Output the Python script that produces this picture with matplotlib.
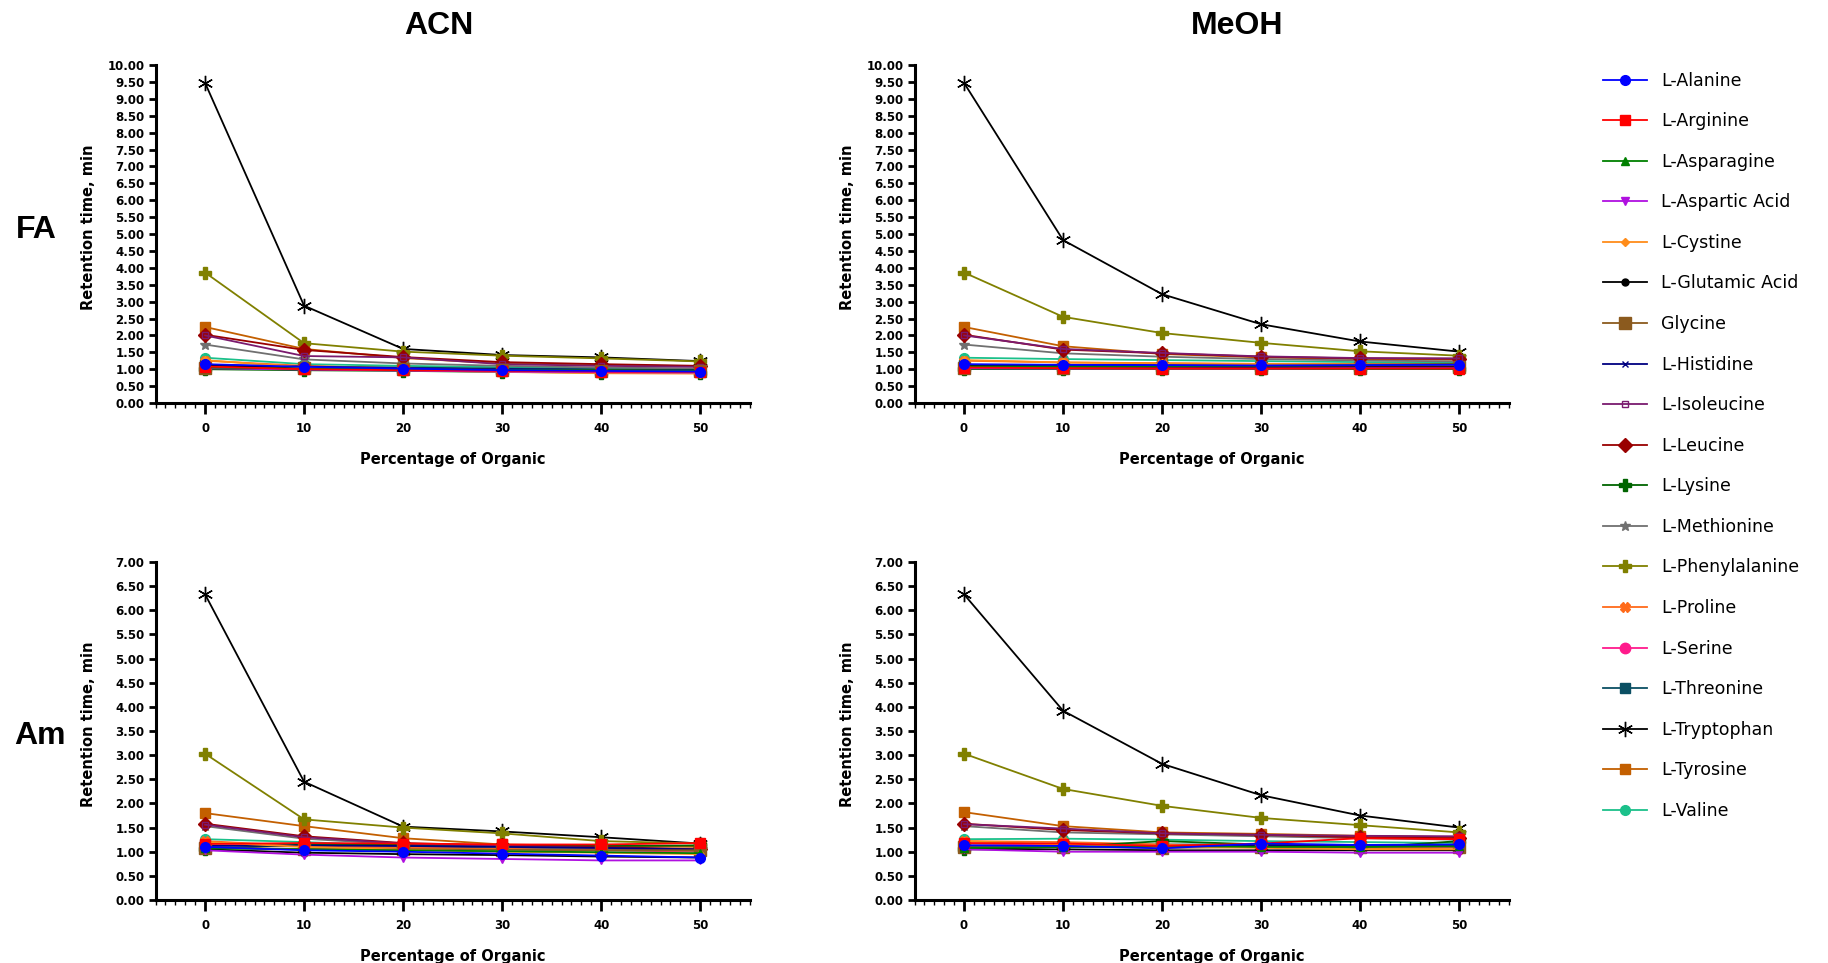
import matplotlib
matplotlib.use('Agg')
import matplotlib.pyplot as plt
from matplotlib.ticker import MultipleLocator, FormatStrFormatter

# percentage of organic modifier
organic = [0, 10, 20, 30, 40, 50]

names = ['L-Alanine', 'L-Arginine', 'L-Asparagine', 'L-Aspartic Acid', 'L-Cystine',
         'L-Glutamic Acid', 'Glycine', 'L-Histidine', 'L-Isoleucine', 'L-Leucine',
         'L-Lysine', 'L-Methionine', 'L-Phenylalanine', 'L-Proline', 'L-Serine',
         'L-Threonine', 'L-Tryptophan', 'L-Tyrosine', 'L-Valine']

colors = ['#0000FF', '#FF0000', '#008000', '#B010E0', '#FF8C1A',
          '#000000', '#8B5A1E', '#000080', '#7A1A6E', '#990000',
          '#006400', '#707070', '#808000', '#FF6A1A', '#FF1A8C',
          '#0B4F63', '#000000', '#C35F00', '#1BC08A']
markers = ['o', 's', '^', 'v', 'D', 'o', 's', 'x', 's', 'D',
           'P', '*', 'P', 'X', 'o', 's', (6, 2, 0), 's', 'o']
msizes = [7, 7, 6, 6, 4.5, 5, 8, 4, 4, 7.5, 8.5, 7, 8.5, 6.5, 7.5, 7, 11, 7, 7]

# retention times (min), one row per amino acid, in the order of names
fa_acn = [
    [1.15, 1.07, 1.02, 0.97, 0.95, 0.93],
    [1.08, 1.00, 0.97, 0.95, 0.93, 0.92],
    [1.05, 1.02, 1.00, 0.98, 0.97, 0.96],
    [1.03, 0.99, 0.96, 0.93, 0.91, 0.90],
    [1.27, 1.05, 0.97, 0.92, 0.88, 0.87],
    [1.10, 1.05, 1.00, 0.97, 0.95, 0.94],
    [1.05, 1.03, 1.00, 0.98, 0.96, 0.95],
    [1.12, 1.08, 1.03, 1.00, 0.98, 0.97],
    [2.00, 1.39, 1.35, 1.15, 1.10, 1.07],
    [2.02, 1.57, 1.36, 1.21, 1.15, 1.10],
    [1.00, 0.97, 0.95, 0.92, 0.90, 0.89],
    [1.73, 1.29, 1.17, 1.10, 1.05, 1.02],
    [3.86, 1.77, 1.52, 1.40, 1.32, 1.23],
    [1.25, 1.10, 1.02, 0.96, 0.94, 0.92],
    [1.10, 1.02, 0.98, 0.95, 0.93, 0.92],
    [1.12, 1.08, 1.05, 1.02, 1.00, 0.99],
    [9.47, 2.88, 1.60, 1.42, 1.35, 1.24],
    [2.25, 1.60, 1.33, 1.17, 1.12, 1.09],
    [1.34, 1.15, 1.10, 1.06, 1.03, 1.00],
]

fa_meoh = [
    [1.15, 1.13, 1.12, 1.11, 1.12, 1.13],
    [1.05, 1.03, 1.02, 1.02, 1.02, 1.02],
    [1.08, 1.08, 1.09, 1.10, 1.12, 1.14],
    [1.03, 1.02, 1.02, 1.02, 1.03, 1.03],
    [1.27, 1.20, 1.17, 1.15, 1.14, 1.13],
    [1.10, 1.08, 1.07, 1.06, 1.06, 1.06],
    [1.05, 1.05, 1.05, 1.05, 1.05, 1.06],
    [1.12, 1.12, 1.12, 1.12, 1.13, 1.14],
    [2.00, 1.60, 1.48, 1.38, 1.33, 1.32],
    [2.02, 1.58, 1.47, 1.37, 1.32, 1.31],
    [1.00, 1.00, 1.00, 1.00, 1.00, 1.00],
    [1.73, 1.47, 1.37, 1.30, 1.26, 1.23],
    [3.86, 2.55, 2.07, 1.78, 1.53, 1.40],
    [1.25, 1.20, 1.18, 1.16, 1.15, 1.15],
    [1.10, 1.08, 1.07, 1.07, 1.07, 1.07],
    [1.12, 1.12, 1.13, 1.14, 1.15, 1.16],
    [9.47, 4.82, 3.22, 2.33, 1.82, 1.52],
    [2.25, 1.68, 1.45, 1.35, 1.30, 1.28],
    [1.34, 1.30, 1.27, 1.24, 1.21, 1.20],
]

am_acn = [
    [1.10, 1.03, 1.00, 0.96, 0.92, 0.88],
    [1.16, 1.18, 1.17, 1.15, 1.15, 1.18],
    [1.07, 1.05, 1.03, 1.01, 0.99, 0.97],
    [1.03, 0.94, 0.88, 0.85, 0.82, 0.82],
    [1.20, 1.10, 1.04, 1.00, 0.98, 0.95],
    [1.05, 0.98, 0.95, 0.93, 0.90, 0.88],
    [1.08, 1.06, 1.05, 1.04, 1.03, 1.03],
    [1.12, 1.13, 1.12, 1.10, 1.08, 1.05],
    [1.56, 1.30, 1.17, 1.12, 1.08, 1.03],
    [1.58, 1.32, 1.18, 1.13, 1.10, 1.05],
    [1.05, 1.15, 1.14, 1.13, 1.12, 1.13],
    [1.53, 1.27, 1.15, 1.10, 1.06, 1.02],
    [3.03, 1.67, 1.50, 1.38, 1.22, 1.17],
    [1.22, 1.12, 1.08, 1.06, 1.04, 1.02],
    [1.18, 1.12, 1.08, 1.05, 1.03, 1.00],
    [1.13, 1.12, 1.10, 1.07, 1.05, 1.03],
    [6.33, 2.45, 1.52, 1.42, 1.30, 1.17],
    [1.80, 1.53, 1.28, 1.15, 1.12, 1.10],
    [1.26, 1.20, 1.12, 1.08, 1.05, 1.02],
]

am_meoh = [
    [1.13, 1.12, 1.07, 1.17, 1.14, 1.15],
    [1.18, 1.17, 1.12, 1.17, 1.28, 1.26],
    [1.08, 1.10, 1.12, 1.10, 1.10, 1.12],
    [1.05, 1.00, 1.00, 1.00, 0.98, 0.98],
    [1.22, 1.15, 1.10, 1.08, 1.05, 1.05],
    [1.05, 1.05, 1.03, 1.03, 1.03, 1.03],
    [1.10, 1.10, 1.08, 1.10, 1.10, 1.10],
    [1.10, 1.12, 1.12, 1.13, 1.12, 1.12],
    [1.57, 1.48, 1.38, 1.35, 1.33, 1.32],
    [1.58, 1.45, 1.38, 1.35, 1.30, 1.28],
    [1.05, 1.10, 1.22, 1.15, 1.08, 1.22],
    [1.53, 1.40, 1.36, 1.32, 1.28, 1.25],
    [3.03, 2.30, 1.95, 1.70, 1.55, 1.40],
    [1.22, 1.20, 1.15, 1.10, 1.08, 1.05],
    [1.17, 1.15, 1.13, 1.12, 1.10, 1.10],
    [1.13, 1.15, 1.15, 1.15, 1.14, 1.14],
    [6.33, 3.92, 2.82, 2.17, 1.75, 1.50],
    [1.82, 1.53, 1.40, 1.37, 1.33, 1.30],
    [1.26, 1.27, 1.25, 1.22, 1.20, 1.18],
]

fig = plt.figure(figsize=(18.28, 9.63), dpi=100)

panels = [
    (fa_acn, [0.0851, 0.5815, 0.325, 0.351], 10),
    (fa_meoh, [0.5003, 0.5815, 0.325, 0.351], 10),
    (am_acn, [0.0851, 0.0654, 0.325, 0.351], 7),
    (am_meoh, [0.5003, 0.0654, 0.325, 0.351], 7),
]

axes = []
for data, rect, ymax in panels:
    ax = fig.add_axes(rect)
    for i in reversed(range(len(names))):  # draw first data set on top
        mfc = 'none' if names[i] == 'L-Isoleucine' else colors[i]
        ax.plot(organic, data[i], color=colors[i], marker=markers[i], ms=msizes[i],
                mfc=mfc, mec=colors[i], lw=1.3, label=names[i])
    ax.set_xlim(-5, 55)
    ax.set_ylim(0, ymax)
    ax.xaxis.set_major_locator(MultipleLocator(10))
    ax.xaxis.set_minor_locator(MultipleLocator(1))
    ax.yaxis.set_major_locator(MultipleLocator(0.5))
    ax.yaxis.set_major_formatter(FormatStrFormatter('%.2f'))
    for side in ['top', 'right']:
        ax.spines[side].set_visible(False)
    for side in ['left', 'bottom']:
        ax.spines[side].set_linewidth(2.2)
    ax.tick_params(axis='y', which='major', length=5, width=2, labelsize=8.5, pad=3)
    ax.tick_params(axis='x', which='major', length=8, width=2, labelsize=8.5, pad=6)
    ax.tick_params(axis='x', which='minor', length=3.5, width=1)
    for lab in ax.get_xticklabels() + ax.get_yticklabels():
        lab.set_fontweight('bold')
    ax.set_ylabel('Retention time, min', fontsize=10.5, fontweight='bold')
    ax.set_xlabel('Percentage of Organic', fontsize=10.5, fontweight='bold')
    ax.yaxis.set_label_coords(-0.101, 0.52)
    ax.xaxis.set_label_coords(0.5, -0.145)
    axes.append(ax)

fig.text(0.240, 0.9735, 'ACN', fontsize=23, fontweight='bold', family='Liberation Sans',
         ha='center', va='center')
fig.text(0.677, 0.9735, 'MeOH', fontsize=23, fontweight='bold', family='Liberation Sans',
         ha='center', va='center')
fig.text(0.020, 0.7615, 'FA', fontsize=23, fontweight='bold', family='Liberation Sans',
         ha='center', va='center')
fig.text(0.022, 0.2355, 'Am', fontsize=23, fontweight='bold', family='Liberation Sans',
         ha='center', va='center')

handles, labels = axes[0].get_legend_handles_labels()
fig.legend(handles[::-1], labels[::-1], loc='upper left', bbox_to_anchor=(0.877, 0.9256),
           frameon=False, fontsize=12.5, borderpad=0, borderaxespad=0,
           handlelength=2.5, handletextpad=0.85, labelspacing=1.3)

fig.savefig('out.png', dpi=100)
